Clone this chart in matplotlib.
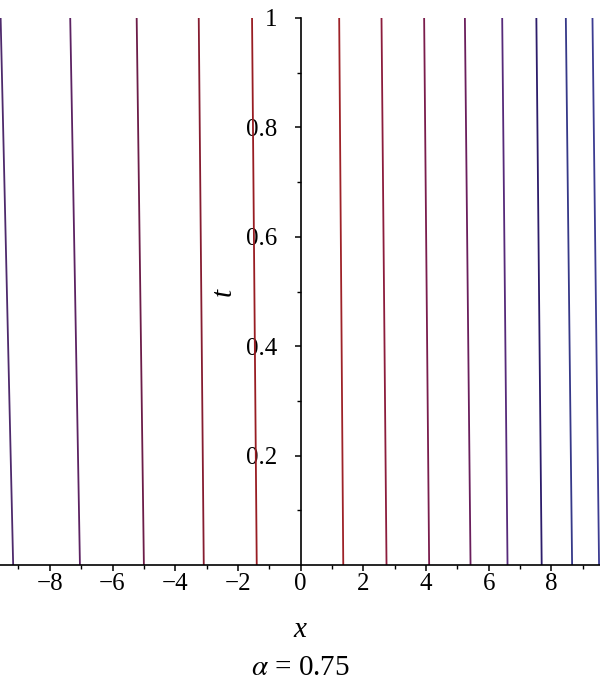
import matplotlib
matplotlib.use("Agg")
import matplotlib.pyplot as plt

plt.rcParams['font.family'] = ['Liberation Serif', 'DejaVu Serif']
plt.rcParams['mathtext.fontset'] = 'stix'

# contour lines: x position at t = 0 and at t = 1
x_bottom = [-9.17, -7.04, -5.00, -3.09, -1.40, 1.36, 2.74, 4.10, 5.42, 6.60, 7.69, 8.66, 9.52]
x_top = [-9.57, -7.35, -5.23, -3.25, -1.55, 1.23, 2.58, 3.94, 5.24, 6.43, 7.52, 8.46, 9.31]
line_colors = ['#4e2a6c', '#5c2262', '#6c1c48', '#861c30', '#981c22',
               '#9e2228', '#8c1c3c', '#7a1c4c', '#6a1e5c', '#562a7a',
               '#2c1c6a', '#363888', '#3c3c92']

x_major = [-8, -6, -4, -2, 0, 2, 4, 6, 8]
x_minor = [-9, -7, -5, -3, -1, 1, 3, 5, 7, 9]
t_major = [0.2, 0.4, 0.6, 0.8, 1.0]
t_labels = ['0.2', '0.4', '0.6', '0.8', '1']
t_minor = [0.1, 0.3, 0.5, 0.7, 0.9]

fig = plt.figure(figsize=(6.0, 6.95), dpi=100)
ax = fig.add_axes([0.0, 130 / 695, 1.0, 547 / 695])

for xb, xt, c in zip(x_bottom, x_top, line_colors):
    ax.plot([xb, xt], [0, 1], color=c, lw=1.3, solid_capstyle='butt')

ax.set_xlim(-9.59, 9.55)
ax.set_ylim(0, 1)

ax.spines['top'].set_visible(False)
ax.spines['right'].set_visible(False)
ax.spines['left'].set_position(('data', 0))
ax.spines['bottom'].set_position(('data', 0))
for s in ['left', 'bottom']:
    ax.spines[s].set_linewidth(1.2)

ax.set_xticks(x_major)
ax.set_xticklabels([str(v).replace('-', '\u2212') for v in x_major])
ax.set_xticks(x_minor, minor=True)
ax.set_yticks(t_major)
ax.set_yticklabels(t_labels)
ax.set_yticks(t_minor, minor=True)

ax.tick_params(axis='both', which='major', direction='out', length=4, width=1.1,
               labelsize=18)
ax.tick_params(axis='both', which='minor', direction='out', length=3, width=1.0)
ax.tick_params(axis='x', which='major', pad=2)
ax.tick_params(axis='y', which='major', pad=13)
ax.patch.set_visible(False)

fig.text(300 / 600, 1 - 630 / 695, 'x', fontsize=21, style='italic',
         ha='center', va='center')
fig.text(300 / 600, 1 - 668 / 695, r'$\alpha$ = 0.75', fontsize=21,
         ha='center', va='center')
fig.text(224 / 600, 1 - 292 / 695, 't', fontsize=21, style='italic',
         rotation=90, ha='center', va='center')

fig.savefig('out.png', dpi=100)
